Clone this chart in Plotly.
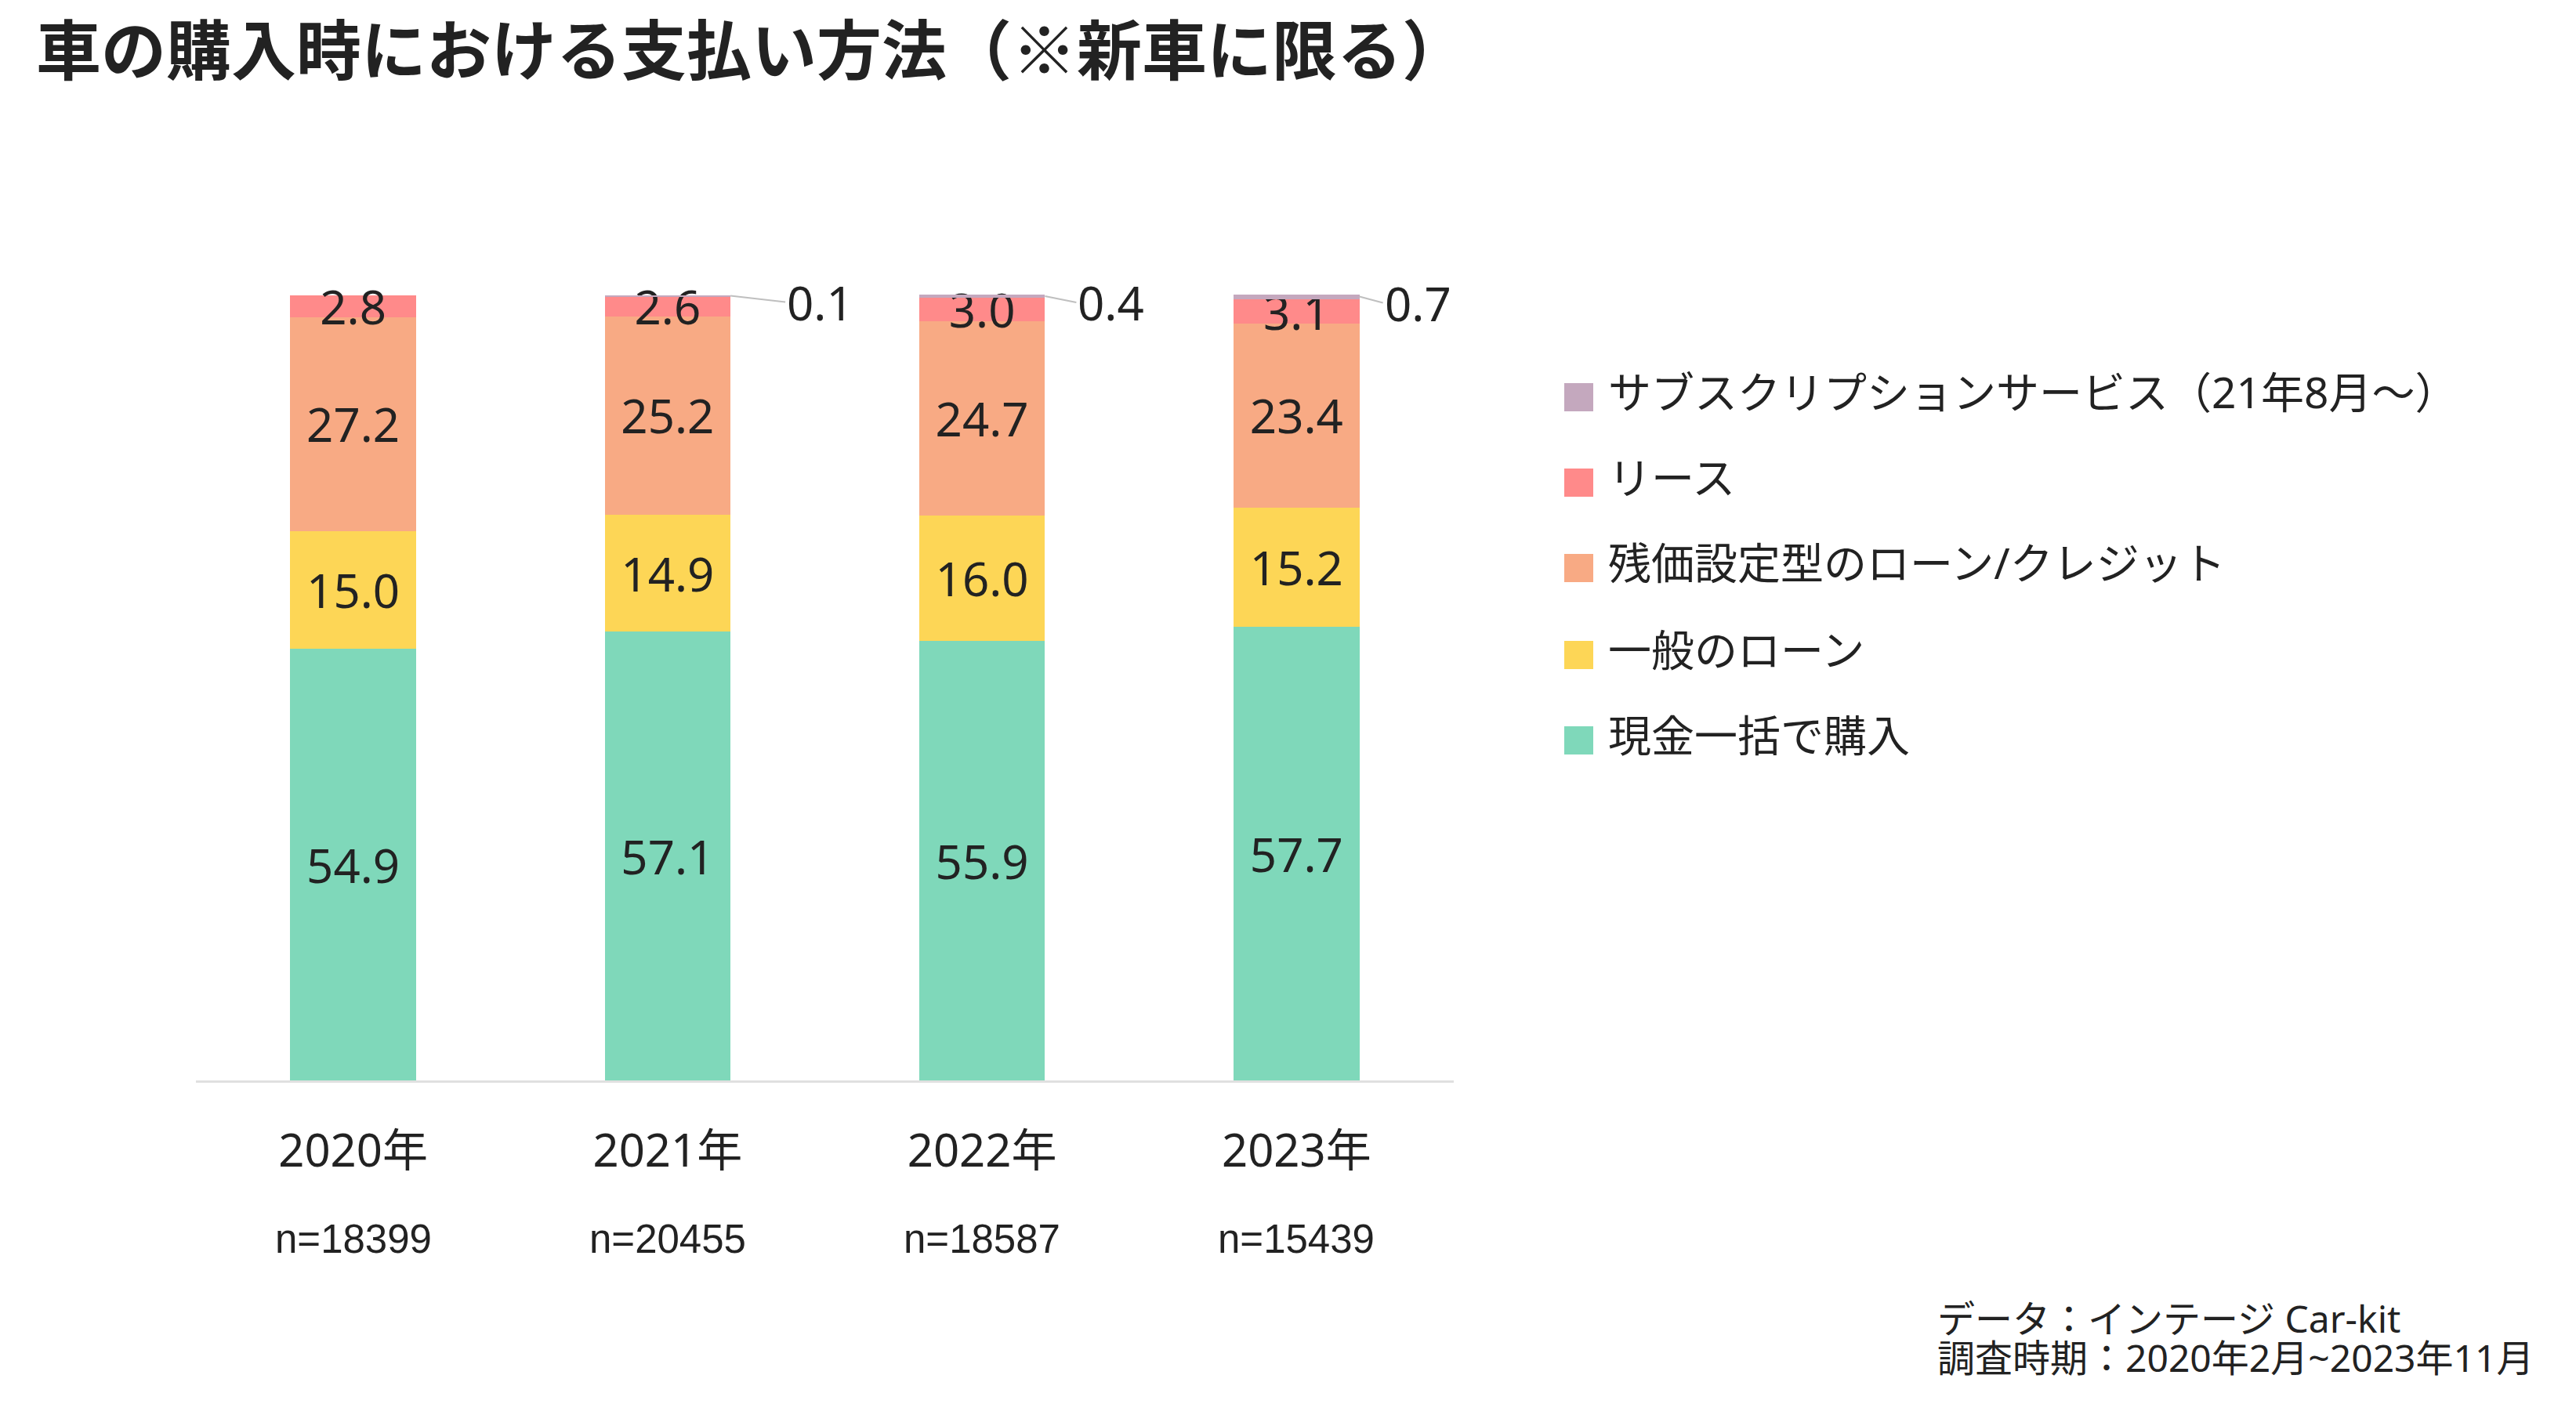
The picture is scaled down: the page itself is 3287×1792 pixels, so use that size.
import plotly.graph_objects as go

# ---- data ----
years = ["2020年", "2021年", "2022年", "2023年"]
sample_sizes = ["n=18399", "n=20455", "n=18587", "n=15439"]
series_names = [
    "現金一括で購入",
    "一般のローン",
    "残価設定型のローン/クレジット",
    "リース",
    "サブスクリプションサービス（21年8月～）",
]
cash = [54.9, 57.1, 55.9, 57.7]
general_loan = [15.0, 14.9, 16.0, 15.2]
residual_loan = [27.2, 25.2, 24.7, 23.4]
lease = [2.8, 2.6, 3.0, 3.1]
subscription = [None, 0.1, 0.4, 0.7]

title_text = "車の購入時における支払い方法（※新車に限る）"
source_lines = ["データ：インテージ Car-kit", "調査時期：2020年2月~2023年11月"]

# ---- style ----
colors = ["#7FD8BA", "#FDD656", "#F8AA84", "#FF8A8A", "#C4A8BE"]
TEXT = "#222222"
FONT = "Noto Sans, Noto Sans CJK JP, sans-serif"
W, H = 3287, 1792
ML, MR, MT, MB = 250, 1432, 376, 413
plot_w = W - ML - MR
plot_h = H - MT - MB
sub_label_shift = [0, 70, 40, 30]  # leader-line lengths (px) per year


def px_x(x):
    return (x - ML) / plot_w


def px_y(y):
    return (H - MB - y) / plot_h


series_values = [cash, general_loan, residual_loan, lease, subscription]

fig = go.Figure()
for name, vals, col in zip(series_names, series_values, colors):
    is_sub = name.startswith("サブスク")
    fig.add_trace(go.Bar(
        x=years, y=vals, name=name,
        marker=dict(color=col, line=dict(width=0)),
        width=0.4,
        texttemplate=None if is_sub else "%{y:.1f}",
        textposition="none" if is_sub else "inside",
        insidetextanchor="middle",
        constraintext="none",
        insidetextfont=dict(family=FONT, size=60, color=TEXT),
        cliponaxis=False,
        showlegend=False,
        hoverinfo="skip",
    ))

annotations = []
# subscription labels with leader lines
for i, v in enumerate(subscription):
    if v is None:
        continue
    top = sum(s[i] for s in series_values if s[i] is not None)
    annotations.append(dict(
        x=i + 0.2, y=top - v / 2, xref="x", yref="y",
        text=f"{v:.1f}", showarrow=True, arrowhead=0, arrowwidth=2,
        arrowcolor="#BFBFBF", ax=sub_label_shift[i], ay=8,
        xanchor="left", yanchor="middle",
        standoff=0, startstandoff=0,
        font=dict(family=FONT, size=60, color=TEXT),
    ))

# sample sizes under the year labels
for yr, n in zip(years, sample_sizes):
    annotations.append(dict(
        x=yr, y=px_y(1581), xref="x", yref="paper", text=n, showarrow=False,
        xanchor="center", yanchor="middle",
        font=dict(family="Liberation Sans, Arial, sans-serif", size=51, color=TEXT),
    ))

# manual legend (top = subscription)
shapes = []
legend_y = [499, 608, 717, 828, 937]
for k, (name, col) in enumerate(zip(reversed(series_names), reversed(colors))):
    yc = legend_y[k]
    shapes.append(dict(
        type="rect", xref="paper", yref="paper",
        x0=px_x(1996), x1=px_x(2033), y0=px_y(yc + 8 + 18), y1=px_y(yc + 8 - 18),
        fillcolor=col, line=dict(width=0),
    ))
    annotations.append(dict(
        x=px_x(2050), y=px_y(yc), xref="paper", yref="paper", text=name,
        showarrow=False, xanchor="left", yanchor="middle",
        font=dict(family=FONT, size=55, color=TEXT),
    ))

# source notes
for line, yc in zip(source_lines, [1683, 1732]):
    annotations.append(dict(
        x=px_x(2470), y=px_y(yc), xref="paper", yref="paper", text=line,
        showarrow=False, xanchor="left", yanchor="middle",
        font=dict(family=FONT, size=48, color=TEXT),
    ))

fig.update_layout(
    barmode="stack",
    width=W, height=H,
    margin=dict(l=ML, r=MR, t=MT, b=MB, pad=0),
    paper_bgcolor="white", plot_bgcolor="white",
    title=dict(
        text=f"<b>{title_text}</b>", xref="container", yref="container",
        x=46 / W, y=1 - 66 / H, xanchor="left", yanchor="middle",
        font=dict(family="Noto Sans CJK JP, sans-serif", size=83, color=TEXT),
    ),
    xaxis=dict(
        showline=True, linecolor="#E0E0E0", linewidth=3, showgrid=False,
        zeroline=False, ticks="", ticklabelstandoff=37,
        range=[-0.5, len(years) - 0.5], autorange=False,
        tickfont=dict(family=FONT, size=58, color=TEXT),
    ),
    yaxis=dict(visible=False, range=[0, 100], autorange=False,
               showgrid=False, zeroline=False),
    annotations=annotations,
    shapes=shapes,
    showlegend=False,
)

fig.write_html("out.html")
